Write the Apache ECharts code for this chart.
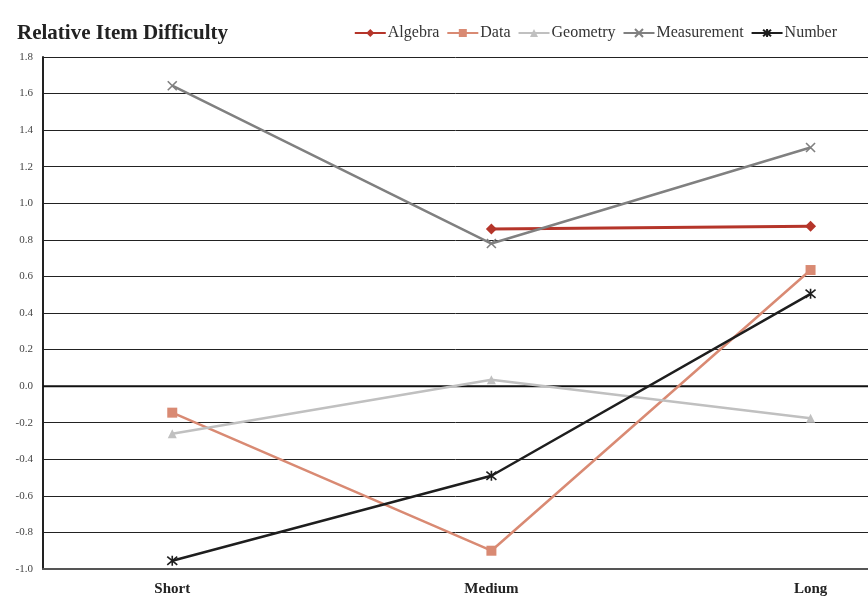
<!DOCTYPE html>
<html><head><meta charset="utf-8">
<script src="https://cdn.jsdelivr.net/npm/echarts@6/dist/echarts.min.js"></script>
<style>html,body{margin:0;padding:0;background:#fff}#c{width:868px;height:597px}</style>
</head><body><div id="c"></div>
<script>
const categories = ['Short', 'Medium', 'Long'];
const algebra = [null, 0.86, 0.875];
const dataSeries = [-0.145, -0.90, 0.635];
const geometry = [-0.26, 0.035, -0.175];
const measurement = [1.643, 0.78, 1.305];
const number = [-0.955, -0.49, 0.505];
const yTicks = { min: -1.0, max: 1.8, step: 0.2 };

const serif = '"Liberation Serif", "DejaVu Serif", serif';
const toPts = arr => arr.map((v, i) => [i, v]);
const xPath = 'path://M0,0 L10,10 M10,0 L0,10';
const starPath = 'path://M0,0 L10,10 M10,0 L0,10 M5,-1 L5,11';

function mk(name, vals, color, symbol, size, width, strokeSym) {
  return {
    name, type: 'line', data: toPts(vals), symbol, symbolSize: size,
    connectNulls: false,
    lineStyle: { color, width },
    itemStyle: strokeSym ? { color: color, borderColor: color, borderWidth: 1.6 } : { color },
    emphasis: { disabled: true }
  };
}

const chart = echarts.init(document.getElementById('c'));
chart.setOption({
  animation: false,
  title: { text: 'Relative Item Difficulty', left: 12, top: 18,
    textStyle: { fontFamily: serif, fontWeight: 'bold', fontSize: 21, color: '#222' } },
  legend: {
    right: 26, top: 20, itemWidth: 31, itemHeight: 10, itemGap: 7,
    textStyle: { fontFamily: serif, fontSize: 16, color: '#333', padding: [0, 0, 0, -3] },
    data: ['Algebra', 'Data', 'Geometry', 'Measurement', 'Number']
  },
  grid: { left: 43, right: 0, top: 57, bottom: 26 },
  xAxis: {
    type: 'value', min: -0.405, max: 2.18,
    splitLine: { show: false },
    axisTick: { show: false },
    axisLine: { show: true, onZero: false, lineStyle: { color: '#555', width: 2 } },
    axisLabel: { customValues: [0, 1, 2], formatter: v => categories[Math.round(v)],
      fontFamily: serif, fontWeight: 'bold', fontSize: 15, color: '#222', margin: 13 }
  },
  yAxis: {
    type: 'value', min: yTicks.min, max: yTicks.max, interval: yTicks.step,
    axisLine: { show: true, onZero: false, lineStyle: { color: '#222', width: 2 } },
    axisTick: { show: false },
    axisLabel: { formatter: v => v.toFixed(1), fontFamily: serif, fontSize: 11, color: '#444', margin: 10 },
    splitLine: { lineStyle: { color: '#222', width: 1 } }
  },
  series: [
    mk('Algebra', algebra, '#b5352a', 'diamond', 11, 3),
    mk('Data', dataSeries, '#d98a73', 'rect', 10, 2.5),
    mk('Geometry', geometry, '#c0c0c0', 'triangle', 9, 2.5),
    mk('Measurement', measurement, '#808080', xPath, 9, 2.5, true),
    mk('Number', number, '#1e1e1e', starPath, 10, 2.5, true),
    { type: 'line', data: [[-0.405, 0], [2.18, 0]], symbol: 'none', silent: true,
      lineStyle: { color: '#111', width: 2 }, z: 1 }
  ]
});
</script></body></html>
